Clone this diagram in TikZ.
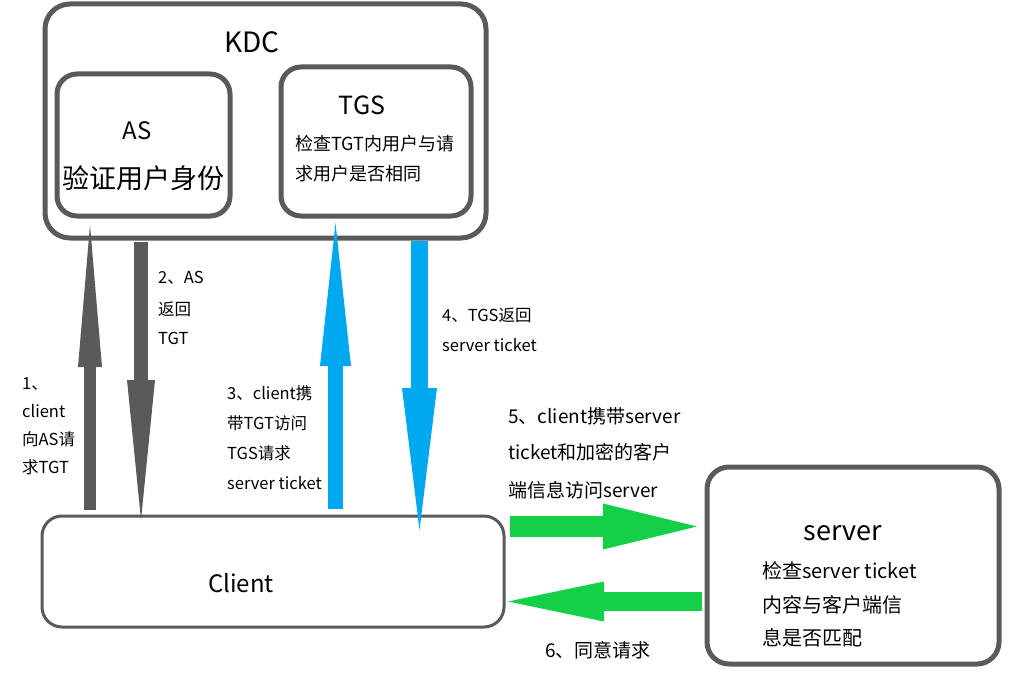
\documentclass[tikz,border=0pt]{standalone}
\usepackage{fontspec}
\setmainfont{Noto Sans CJK SC}
\usetikzlibrary{arrows.meta}
\definecolor{boxgray}{HTML}{5A5A5A}
\definecolor{arrblue}{HTML}{00A8F0}
\definecolor{arrgreen}{HTML}{14D048}
\tikzset{
  box/.style={draw=boxgray, line width=5pt, rounded corners=#1, fill=white},
  box/.default=20pt,
  lbl/.style={anchor=base west, inner sep=0pt, text=black},
  ctr/.style={anchor=base, inner sep=0pt, text=black},
  fs/.style={font=\fontsize{#1}{#1}\selectfont},
  blockarrow/.style n args={4}{line width=#1, line cap=butt,
     -{Triangle[width=#2, length=#3, line width=0pt]}, draw=#4},
}
\begin{document}
\begin{tikzpicture}[x=1pt, y=-1pt]
\useasboundingbox (0,0) rectangle (1032,687);
\fill[white] (0,0) rectangle (1032,687);

% boxes
\node[box=25pt, minimum width=441pt, minimum height=234pt] (kdc) at (265.5,121) {};
\node[box, minimum width=173pt, minimum height=142pt] (as) at (143.5,145) {};
\node[box, minimum width=190pt, minimum height=149pt] (tgs) at (376,141.5) {};
\node[box, line width=3pt, minimum width=462pt, minimum height=111pt] (client) at (273,571.5) {};
\node[box=22pt, minimum width=292pt, minimum height=197pt] (server) at (853,565.5) {};

% box texts
\node[ctr, fs=28] (kdct) at (252,53) {KDC};
\node[ctr, fs=24] (ast) at (137,140) {AS};
\node[ctr, fs=27] (asb) at (143,188) {验证用户身份};
\node[ctr, fs=25] (tgst) at (362,115) {TGS};
\node[lbl, fs=18] (tgsb1) at (295,151) {检查TGT内用户与请};
\node[lbl, fs=18] (tgsb2) at (295,181) {求用户是否相同};
\node[ctr, fs=24] (clientt) at (241,592) {Client};
\node[ctr, fs=27] (servert) at (843,540) {server};
\node[lbl, fs=20] (servb1) at (762,578) {检查server ticket};
\node[lbl, fs=20] (servb2) at (762,612) {内容与客户端信};
\node[lbl, fs=20] (servb3) at (762,645) {息是否匹配};

% arrow end points
\coordinate (a1s) at (90,510);  \coordinate (a1e) at (90,225);
\coordinate (a2s) at (141,242); \coordinate (a2e) at (141,520);
\coordinate (a3s) at (335.5,509); \coordinate (a3e) at (335.5,223);
\coordinate (a4s) at (419.5,241); \coordinate (a4e) at (419.5,530);
\coordinate (a5s) at (510,526.5); \coordinate (a5e) at (697,526.5);
\coordinate (a6s) at (702,601.5); \coordinate (a6e) at (508,601.5);

\draw[blockarrow={12pt}{24pt}{142pt}{boxgray}] (a1s) -- (a1e);
\draw[blockarrow={14pt}{28pt}{140pt}{boxgray}] (a2s) -- (a2e);
\draw[blockarrow={15pt}{31pt}{143pt}{arrblue}] (a3s) -- (a3e);
\draw[blockarrow={17pt}{35pt}{142pt}{arrblue}] (a4s) -- (a4e);
\draw[blockarrow={21pt}{46pt}{94pt}{arrgreen}] (a5s) -- (a5e);
\draw[blockarrow={19pt}{40pt}{96pt}{arrgreen}] (a6s) -- (a6e);

% labels
\node[lbl, fs=16.5] (l1a) at (22,389) {1、};
\node[lbl, fs=16.5] (l1b) at (22,417) {client};
\node[lbl, fs=16.5] (l1c) at (22,445) {向AS请};
\node[lbl, fs=16.5] (l1d) at (22,473) {求TGT};

\node[lbl, fs=16.5] (l2a) at (158,283) {2、AS};
\node[lbl, fs=16.5] (l2b) at (158,315) {返回};
\node[lbl, fs=16.5] (l2c) at (158,344) {TGT};

\node[lbl, fs=16.5] (l3a) at (227,399) {3、client携};
\node[lbl, fs=16.5] (l3b) at (227,429) {带TGT访问};
\node[lbl, fs=16.5] (l3c) at (227,459) {TGS请求};
\node[lbl, fs=16.5] (l3d) at (227,489) {server ticket};

\node[lbl, fs=16.5] (l4a) at (442,321) {4、TGS返回};
\node[lbl, fs=16.5] (l4b) at (442,351) {server ticket};

\node[lbl, fs=19] (l5a) at (508,423) {5、client携带server};
\node[lbl, fs=19] (l5b) at (508,459) {ticket和加密的客户};
\node[lbl, fs=19] (l5c) at (508,497) {端信息访问server};

\node[lbl, fs=19] (l6) at (545,657) {6、同意请求};
\end{tikzpicture}
\end{document}
